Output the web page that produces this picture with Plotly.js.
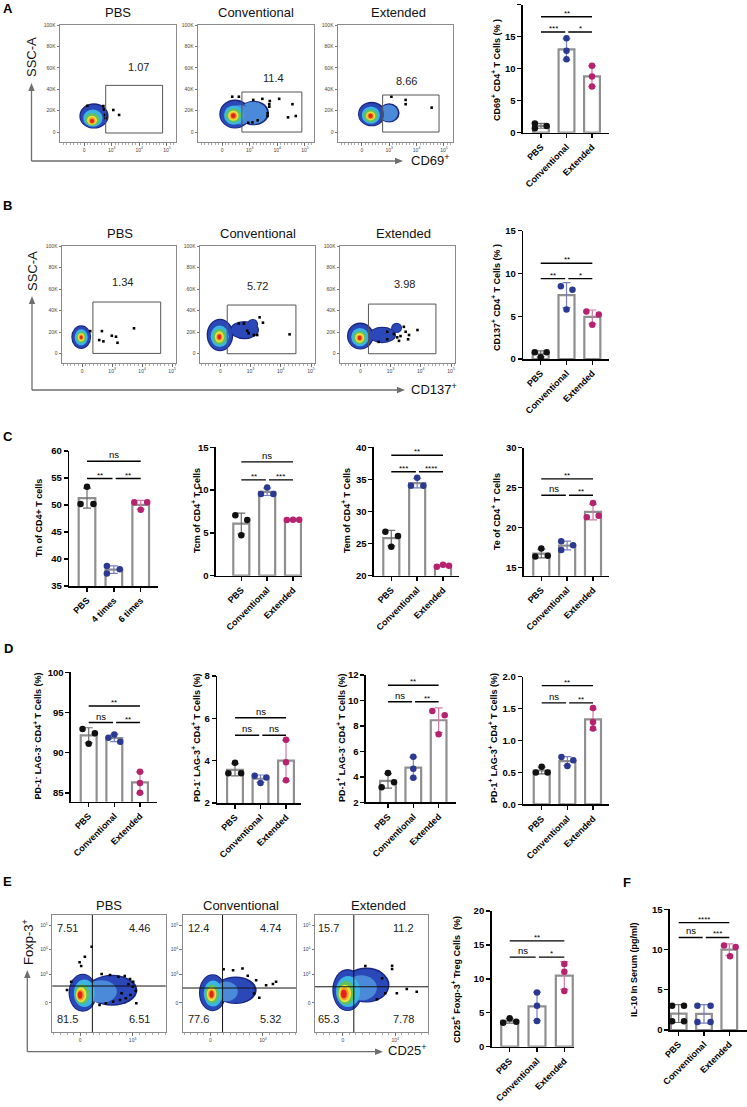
<!DOCTYPE html>
<html><head><meta charset="utf-8">
<script src="https://cdn.plot.ly/plotly-3.0.1.min.js"></script>
<style>html,body{margin:0;padding:0;background:#fff}#chart{width:747px;height:1107px}</style>
</head><body><div id="chart"></div>
<script>
// ---------------- DATA ----------------
const catsStd = ['PBS','Conventional','Extended'];
const catsTn  = ['PBS','4 times','6 times'];

// bar-chart replicate values [PBS, Conventional, Extended]
const cd69  = [[1.45,0.7,1.05],[14.75,12.8,11.45],[10.45,8.75,7.2]];
const cd137 = [[0.8,0.8,0.2],[8.5,8.1,5.8],[5.55,5.2,4.0]];
const tn    = [[50.2,53.4,50.2],[38.7,37.3,38.1],[50.5,50.5,49.1]];
const tcm   = [[7.06,6.5,4.72],[10.3,9.55,9.55],[6.5,6.55,6.55]];
const tem   = [[26.85,26.2,24.5],[35.27,34.0,34.0],[21.4,21.7,21.55]];
const te    = [[16.4,16.5,17.4],[18.3,17.8,17.2],[21.3,23.1,21.5]];
const pdNlagN = [[92.93,92.43,91.1],[92.26,91.85,91.36],[87.64,86.24,85.0]];
const pdNlagP = [[3.9,3.4,3.4],[3.29,3.2,2.95],[4.99,3.93,3.08]];
const pdPlagN = [[4.3,3.18,3.57],[5.58,4.64,3.93],[9.17,8.83,7.34]];
const pdPlagP = [[0.59,0.5,0.5],[0.74,0.69,0.6],[1.51,1.29,1.19]];
const treg  = [[3.54,4.18,3.69],[7.97,6.05,3.79],[12.2,11.06,8.21]];
const il10  = [[3.0,3.0,1.08,1.08],[3.0,3.0,1.0,1.0],[10.49,10.3,9.17]];

// horizontal scatter of replicate dots (category units)
const jitA  = [[-0.24,-0.24,0.22],[0,0,0],[0,0,0]];
const jitB  = [[-0.23,0.23,0],[-0.22,0.23,0],[-0.23,0.25,0]];
const jitC1 = [[-0.24,0,0.24],[-0.26,-0.26,0.22],[-0.24,0.24,0]];
const jitC2 = [[-0.23,0.23,0],[0,-0.24,0.24],[-0.24,0,0.24]];
const jitC3 = [[-0.23,0.26,0],[0,-0.24,0.24],[-0.24,0,0.23]];
const jitC4 = [[-0.23,0.25,0],[-0.23,0.23,-0.23],[-0.24,0,0.22]];
const jitD1 = [[-0.24,0.24,0],[0,-0.23,0.23],[0,0,0]];
const jitD2 = [[0,-0.26,0.24],[-0.23,0.23,0],[0,0,0]];
const jitD3 = [[0,-0.25,0.24],[0,0,0],[-0.25,0.24,0]];
const jitD4 = [[0,-0.23,0.23],[-0.23,0.23,0],[0,0,0]];
const jitE  = [[-0.24,0,0.24],[0,0,0],[0,0,0]];
const jitF  = [[-0.26,0.21,-0.26,0.21],[-0.26,0.26,-0.26,0.26],[-0.21,0.25,0.03]];

// significance brackets [from, to, level, label]
const sigA  = [[0,2,18.1,'**'],[0,1,15.7,'***'],[1,2,15.7,'*']];
const sigB  = [[0,2,11.2,'**'],[0,1,9.4,'**'],[1,2,9.4,'*']];
const sigC1 = [[0,2,58.1,'ns'],[0,1,54.9,'**'],[1,2,54.9,'**']];
const sigC2 = [[0,2,13.3,'ns'],[0,1,11.2,'**'],[1,2,11.2,'***']];
const sigC3 = [[0,2,38.75,'**'],[0,1,36.2,'***'],[1,2,36.2,'****']];
const sigC4 = [[0,2,26.1,'**'],[0,1,24.05,'ns'],[1,2,24.05,'**']];
const sigD1 = [[0,2,95.8,'**'],[0,1,93.75,'ns'],[1,2,93.75,'**']];
const sigD2 = [[0,2,6.03,'ns'],[0,1,5.2,'ns'],[1,2,5.2,'ns']];
const sigD3 = [[0,2,11.19,'**'],[0,1,9.9,'ns'],[1,2,9.9,'**']];
const sigD4 = [[0,2,1.86,'**'],[0,1,1.59,'ns'],[1,2,1.59,'**']];
const sigE  = [[0,2,15.6,'**'],[0,1,13.2,'ns'],[1,2,13.2,'*']];
const sigF  = [[0,2,13.35,'****'],[0,1,11.5,'ns'],[1,2,11.5,'***']];

// flow plots: tick labels
const flowXTicksAB = ['0','10<sup>3</sup>','10<sup>4</sup>','10<sup>5</sup>'];
const flowYTicksAB = ['0','20K','40K','60K','80K','100K'];
const flowXTicksE  = ['0','10<sup>3</sup>'];
const flowYTicksE  = ['0','10<sup>3</sup>','10<sup>4</sup>','10<sup>5</sup>'];
const flowTitles = ['PBS','Conventional','Extended'];

// density blobs: [cx, cy, rx, ry, level]
const blobA1 = [[1.36,15,0.53,11.8,0],[1.35,14.6,0.48,10.8,1],[1.32,13,0.35,8,3],[1.3,11.8,0.26,6,4],[1.29,11,0.18,4.3,5],[1.29,10.6,0.12,3,6],[1.29,10.3,0.075,2,7]];
const blobA2 = [[2.15,17.8,0.55,11.5,0],[1.47,16.8,0.57,13.5,0],[2.13,17.8,0.5,10.5,2],[1.46,16.5,0.52,12.5,1],[1.65,16.2,0.45,9,2],[1.43,15.8,0.36,9,3],[1.42,15.5,0.27,6.8,4],[1.41,15.3,0.19,4.8,5],[1.41,15.2,0.13,3.4,6],[1.41,15.2,0.085,2.3,7]];
const blobA3 = [[2.0,17.8,0.38,9,0],[1.36,16.8,0.5,11.5,0],[1.98,17.8,0.34,8,2],[1.35,16.5,0.46,10.5,1],[1.33,15.8,0.33,8,3],[1.32,15.3,0.25,6,4],[1.32,15.1,0.17,4.2,5],[1.32,15,0.12,3,6],[1.32,15,0.08,2,7]];
const blobB1 = [[0.97,15.5,0.33,11,0],[0.97,15.4,0.3,10,1],[0.97,15.2,0.22,7.5,3],[0.97,15.2,0.16,5.5,4],[0.97,15.2,0.11,3.8,5],[0.97,15.2,0.075,2.6,6],[0.97,15.2,0.05,1.8,7]];
const blobB2 = [[1.8,22,0.48,8.5,0],[2.07,27.5,0.18,4.8,0],[0.99,17.4,0.44,15,0],[1.8,22,0.44,7.5,1],[2.07,27.5,0.15,4,1],[0.99,17.2,0.4,14,1],[0.98,16.2,0.3,10,3],[0.97,15.8,0.22,7.5,4],[0.97,15.6,0.15,5.2,5],[0.97,15.5,0.1,3.5,6],[0.97,15.5,0.065,2.3,7]];
const blobB3 = [[1.73,17.4,0.45,7.6,0],[2.2,24,0.18,4.8,0],[1.0,16.4,0.44,12.5,0],[1.73,17.4,0.41,6.8,1],[2.2,24,0.15,4,1],[1.0,16.2,0.4,11.5,1],[0.99,15.5,0.29,8.5,3],[0.98,15,0.21,6.3,4],[0.98,14.8,0.15,4.5,5],[0.98,14.6,0.1,3,6],[0.98,14.6,0.065,2,7]];
const blobE1 = [[0.61,0.5,0.48,0.62,0],[0.05,0.4,0.27,0.76,0],[0.6,0.5,0.45,0.57,1],[0.05,0.4,0.25,0.72,1],[0.4,0.45,0.3,0.45,2],[0.08,0.38,0.2,0.55,3],[0.04,0.34,0.14,0.4,4],[0.02,0.32,0.1,0.3,5],[0.01,0.31,0.07,0.22,6],[0.0,0.31,0.045,0.15,7]];
const blobE2 = [[0.48,0.5,0.4,0.55,0],[0.04,0.4,0.26,0.74,0],[0.47,0.5,0.37,0.5,1],[0.04,0.4,0.24,0.7,1],[0.3,0.45,0.22,0.4,2],[0.05,0.37,0.18,0.52,3],[0.03,0.35,0.13,0.38,4],[0.02,0.34,0.09,0.28,5],[0.02,0.34,0.065,0.2,6],[0.02,0.34,0.04,0.14,7]];
const blobE3 = [[0.45,0.71,0.44,0.7,0],[0.09,0.51,0.29,0.84,0],[0.45,0.7,0.41,0.65,1],[0.09,0.5,0.27,0.8,1],[0.35,0.6,0.3,0.5,2],[0.1,0.45,0.23,0.62,3],[0.06,0.4,0.17,0.48,4],[0.04,0.37,0.12,0.35,5],[0.03,0.36,0.085,0.26,6],[0.02,0.35,0.055,0.17,7]];

// single events outside the dense cloud
const evA1x = [1.12,1.70,1.72,2.06,2.27,1.76,1.78];
const evA1y = [24.5,24.3,21,20.6,16,16,13];
const evA2x = [1.37,1.61,2.13,2.46,2.73,3.07,2.71,2.71,2.65,2.65,3.55,3.39,3.67,2.1,2.29,1.95];
const evA2y = [33,33,30,31,29,31,26,23.7,17.5,15,26,13.7,15,9,11,8.7];
const evA3x = [2.08,2.6,2.6,3.55];
const evA3y = [33,30,26,22.8];
const evB1x = [1.66,1.57,1.71,1.99,2.13,2.18,2.73,1.27];
const evB1y = [21,12.7,11.5,16.7,15.8,10.2,23.6,21];
const evB2x = [1.61,1.78,2.3,2.41,1.94,2.11,2.22,3.29,1.89];
const evB2y = [28,28,33.8,28.8,19,17.4,17.4,18,21.4];
const evB3x = [1.89,2.11,2.33,2.44,2.5,2.61,2.89,1.61,1.89,2.22,2.28,2.58];
const evB3y = [20.4,18.3,16.4,25,20.4,17.4,22,11,13.4,15.2,12,13.4];
const evE1x = [0.22,0.09,-0.01,0.02,0.41,0.57,0.73,0.85,0.95,1.01,0.92,1.0,1.06,0.96,0.87,1.07,0.76,0.63,0.49,0.37,0.79,-0.25,-0.17];
const evE1y = [2.24,1.84,1.62,1.47,1.15,1.11,1.04,1.07,0.95,0.84,0.75,0.64,0.48,0.31,0.18,-0.02,0.11,0.04,-0.02,-0.09,0.38,0.51,0.84];
const evE2x = [0.43,0.61,0.71,0.87,1.06,1.25,1.19,0.93,0.83,0.25];
const evE2y = [1.3,1.37,1.08,0.9,0.7,0.84,0.75,0.2,0.37,1.34];
const evE3x = [0.94,0.94,1.03,1.22,1.41,0.43,0.75,0.81,0.65];
const evE3y = [1.48,1.35,0.38,0.55,0.44,1.47,0.98,0.38,0.14];

// gates [x0,x1,y0,y1] and gate percentages
const gateA = [[1.785,3.845,-0.9,43.6],[1.72,3.89,0,37.4],[1.76,3.82,0,34.6]];
const gateB = [[1.36,3.62,0.3,48],[1.23,3.5,0,45.2],[1.27,3.5,0,46.1]];
const pctA = ['1.07','11.4','8.66'];
const pctB = ['1.34','5.72','3.98'];
const quadE = [[0.233,0.67],[0.23,0.59],[0.21,0.64]];
const pctE = [['7.51','4.46','81.5','6.51'],['12.4','4.74','77.6','5.32'],['15.7','11.2','65.3','7.78']];

// ---------------- STYLE / LAYOUT ----------------
const W = 747, H = 1107;
const FONT = 'Liberation Sans, Arial, Helvetica, sans-serif';
const ptColors  = ['#111111','#2b3990','#b5236f'];
const errColors = ['#6f6f6f','#7880c4','#d47aa5'];
const palette = ['#1b2580','#2b48b8','#4a8ad8','#3bb5e3','#5fc162','#ebe23a','#f39a2a','#e2231d'];
const BOLD = (size)=>({family:FONT, size:size, color:'#000', weight:700});

const layout = {width:W, height:H, margin:{l:0,r:0,t:0,b:0}, showlegend:false,
  paper_bgcolor:'#ffffff', plot_bgcolor:'rgba(0,0,0,0)', font:{family:FONT, color:'#000'},
  annotations:[], shapes:[]};
const traces = [];
let axN = 0;
function newAxes(box, xo, yo){
  axN++; const n = axN===1 ? '' : String(axN);
  layout['xaxis'+n] = Object.assign({domain:[box[0]/W, box[1]/W], anchor:'y'+n, showgrid:false, zeroline:false, fixedrange:true}, xo);
  layout['yaxis'+n] = Object.assign({domain:[1-box[3]/H, 1-box[2]/H], anchor:'x'+n, showgrid:false, zeroline:false, fixedrange:true}, yo);
  return {x:'x'+n, y:'y'+n};
}
function txt(t, px, py, font, opts){
  layout.annotations.push(Object.assign({text:t, x:px/W, y:1-py/H, xref:'paper', yref:'paper', showarrow:false,
    xanchor:'center', yanchor:'middle', font:font}, opts||{}));
}
const mean = a => a.reduce((s,v)=>s+v,0)/a.length;
const sd = a => { const m = mean(a); return Math.sqrt(a.reduce((s,v)=>s+(v-m)*(v-m),0)/(a.length-1)); };

function barChart(c){
  const axisBase = {showline:true, linecolor:'#000', linewidth:1.6, ticks:'outside', ticklen:4, tickwidth:1.4, tickcolor:'#000'};
  const ax = newAxes(c.box,
    Object.assign({}, axisBase, {range:c.xr, tickmode:'array', tickvals:[0,1,2], ticktext:c.cats, tickangle:-45,
      tickfont:BOLD(9)}),
    Object.assign({}, axisBase, {range:c.yr, tickmode:'array', tickvals:c.yt, ticktext:(c.ytt || c.yt.map(String)),
      tickfont:BOLD(9.5)}));
  const idx = [0,1,2];
  traces.push({type:'bar', x:idx, y:c.vals.map(mean), width:0.62, xaxis:ax.x, yaxis:ax.y, hoverinfo:'skip',
    marker:{color:'#ffffff', line:{color:'#8f8f8f', width:2.2}}});
  idx.forEach(i=>{
    traces.push({type:'scatter', mode:'markers', x:[i], y:[mean(c.vals[i])], xaxis:ax.x, yaxis:ax.y, hoverinfo:'skip',
      marker:{size:1, color:'rgba(0,0,0,0)'},
      error_y:{type:'data', array:[sd(c.vals[i])], visible:true, color:errColors[i], thickness:1.2, width:4}});
  });
  idx.forEach(i=>{
    traces.push({type:'scatter', mode:'markers', x:c.vals[i].map((v,k)=>i+c.jit[i][k]), y:c.vals[i], xaxis:ax.x, yaxis:ax.y,
      hoverinfo:'skip', cliponaxis:false, marker:{size:6.5, color:ptColors[i]}});
  });
  c.sig.forEach(s=>{
    const a = (s[0]===1) ? 1.07 : s[0];
    const b = (s[1]===1) ? 0.95 : s[1];
    traces.push({type:'scatter', mode:'lines', x:[a,b], y:[s[2],s[2]], xaxis:ax.x, yaxis:ax.y, hoverinfo:'skip',
      cliponaxis:false, line:{color:'#000', width:1.4}});
    const isNs = s[3]==='ns';
    layout.annotations.push({text:s[3], x:(a+b)/2, y:s[2], xref:ax.x, yref:ax.y, showarrow:false, yanchor:'bottom',
      yshift: isNs ? -1 : -3, font:{family:FONT, size:isNs?9.5:8, color:'#000'}});
  });
  txt(c.title, c.tx, c.ty, BOLD(9), {textangle:-90});
}

function flowPanel(c){
  const fa = {showline:true, mirror:true, linecolor:'#8a8a8a', linewidth:1, ticks:'outside', ticklen:2.5, tickwidth:0.8,
    tickcolor:'#555', tickfont:{family:FONT, size:5, color:'#444'}};
  const ax = newAxes(c.box,
    Object.assign({}, fa, {range:c.xr, tickmode:'array', tickvals:c.xtv, ticktext:c.xtt,
      minor:{ticks:'outside', ticklen:1.5, tickwidth:0.6, tickcolor:'#777', dtick:0.125}}),
    Object.assign({}, fa, {range:c.yr, tickmode:'array', tickvals:c.ytv, ticktext:c.ytt}));
  c.blob.forEach(b=>layout.shapes.push({type:'circle', xref:ax.x, yref:ax.y, layer:'below',
    x0:b[0]-b[2], x1:b[0]+b[2], y0:b[1]-b[3], y1:b[1]+b[3], fillcolor:palette[b[4]], line:{width:0}}));
  traces.push({type:'scatter', mode:'markers', x:c.evx, y:c.evy, xaxis:ax.x, yaxis:ax.y, hoverinfo:'skip',
    marker:{size:2.6, color:'#000', symbol:'square'}});
  const nf = {family:FONT, size:11, color:'#222'};
  if (c.gate){
    const g = c.gate;
    layout.shapes.push({type:'rect', xref:ax.x, yref:ax.y, x0:g[0], x1:g[1], y0:g[2], y1:g[3], line:{color:'#555', width:1}, layer:'above'});
    layout.annotations.push({text:c.pct, x:c.pctPos[0], y:c.pctPos[1], xref:ax.x, yref:ax.y, showarrow:false, font:nf});
  }
  if (c.quad){
    const q = c.quad;
    layout.shapes.push({type:'line', xref:ax.x, yref:'paper', x0:q[0], x1:q[0], y0:1-c.box[3]/H, y1:1-c.box[2]/H, line:{color:'#111', width:1}, layer:'above'});
    layout.shapes.push({type:'line', xref:'paper', yref:ax.y, x0:c.box[0]/W, x1:c.box[1]/W, y0:q[1], y1:q[1], line:{color:'#111', width:1}, layer:'above'});
    const pp = c.pctPos;
    [[pp[0],pp[2]],[pp[1],pp[2]],[pp[0],pp[3]],[pp[1],pp[3]]].forEach((p,k)=>{
      layout.annotations.push({text:c.pcts[k], x:p[0], y:p[1], xref:ax.x, yref:ax.y, showarrow:false, font:nf});
    });
  }
  txt(c.title, c.tx, c.ty, {family:FONT, size:13, color:'#111'});
}

// ---------------- FLOW PANELS ----------------
const boxesA = [[60,176,25,142],[198,314,25,142],[338,453,25,142]];
const boxesB = [[62,176,246,363],[200,315,246,363],[340,455,246,363]];
const boxesE = [[52.3,165.7,915,1032.3],[182.7,296,915,1032.3],[315,428.3,915,1032.3]];
const blobsA = [blobA1,blobA2,blobA3], blobsB = [blobB1,blobB2,blobB3], blobsE = [blobE1,blobE2,blobE3];
const evA = [[evA1x,evA1y],[evA2x,evA2y],[evA3x,evA3y]];
const evB = [[evB1x,evB1y],[evB2x,evB2y],[evB3x,evB3y]];
const evE = [[evE1x,evE1y],[evE2x,evE2y],[evE3x,evE3y]];
const pctPosA = [[2.99,60.7],[2.88,50.5],[2.63,47.7]];
const pctPosB = [[2.36,66.6],[2.23,62.9],[2.45,64.7]];
const pctPosE = [[-0.25,1.14,3.0,-0.65],[-0.235,1.14,3.0,-0.65],[-0.27,1.15,3.0,-0.65]];
const titleXA = [118,256,398], titleXB = [120,258,404], titleXE = [109.3,240.7,378.3];

[0,1,2].forEach(i=>{
  flowPanel({box:boxesA[i], xr:[0.13,4.33], yr:[-9.3,100], xtv:[1,2,3,4], xtt:flowXTicksAB, ytv:[0,20,40,60,80,100], ytt:flowYTicksAB,
    blob:blobsA[i], evx:evA[i][0], evy:evA[i][1], gate:gateA[i], pct:pctA[i], pctPos:pctPosA[i], title:flowTitles[i], tx:titleXA[i], ty:13});
  flowPanel({box:boxesB[i], xr:[0.33,4.13], yr:[-8.6,100], xtv:[1,2,3,4], xtt:flowXTicksAB, ytv:[0,20,40,60,80,100], ytt:flowYTicksAB,
    blob:blobsB[i], evx:evB[i][0], evy:evB[i][1], gate:gateB[i], pct:pctB[i], pctPos:pctPosB[i], title:flowTitles[i], tx:titleXB[i], ty:233});
  flowPanel({box:boxesE[i], xr:[-0.53,1.63], yr:[-1.18,3.51], xtv:[0,1], xtt:flowXTicksE, ytv:[0,1.15,2.15,3.11], ytt:flowYTicksE,
    blob:blobsE[i], evx:evE[i][0], evy:evE[i][1], quad:quadE[i], pcts:pctE[i], pctPos:pctPosE[i], title:flowTitles[i], tx:titleXE[i], ty:905});
});

// ---------------- BAR PANELS ----------------
barChart({vals:cd69, jit:jitA, sig:sigA, cats:catsStd, box:[523,609,4.5,132.7], xr:[-0.706,2.667], yr:[0,20], yt:[0,5,10,15,20],
  title:'CD69<sup>+</sup> CD4<sup>+</sup> T Cells (% )', tx:496, ty:70});
barChart({vals:cd137, jit:jitB, sig:sigB, cats:catsStd, box:[523.3,609,230.7,359], xr:[-0.674,2.646], yr:[0,15], yt:[0,5,10,15],
  title:'CD137<sup>+</sup> CD4<sup>+</sup> T Cells (% )', tx:496, ty:298});
barChart({vals:tn, jit:jitC1, sig:sigC1, cats:catsTn, box:[69.3,158,451,586], xr:[-0.659,2.644], yr:[35,60], yt:[35,40,45,50,55,60],
  title:'Tn of CD4+ T cells', tx:39, ty:518});
barChart({vals:tcm, jit:jitC2, sig:sigC2, cats:catsStd, box:[216,302,447.3,575.7], xr:[-0.979,2.348], yr:[0,15], yt:[0,5,10,15],
  title:'Tcm of CD4<sup>+</sup> T Cells', tx:196, ty:511});
barChart({vals:tem, jit:jitC3, sig:sigC3, cats:catsStd, box:[374,459.3,447.3,575.7], xr:[-0.669,2.63], yr:[20,40], yt:[20,25,30,35,40],
  title:'Tem of CD4<sup>+</sup> T Cells', tx:346, ty:511});
barChart({vals:te, jit:jitC4, sig:sigC4, cats:catsStd, box:[524,609,447.7,575.7], xr:[-0.669,2.619], yr:[14,30], yt:[15,20,25,30],
  title:'Te of CD4<sup>+</sup> T Cells', tx:496, ty:512});
barChart({vals:pdNlagN, jit:jitD1, sig:sigD1, cats:catsStd, box:[71,156.7,672.3,801.7], xr:[-0.69,2.653], yr:[83.9,100], yt:[85,90,95,100],
  title:'PD-1<sup>-</sup> LAG-3<sup>-</sup> CD4<sup>+</sup> T Cells (%)', tx:37.5, ty:736});
barChart({vals:pdNlagP, jit:jitD2, sig:sigD2, cats:catsStd, box:[217.3,301,676,803], xr:[-0.694,2.588], yr:[2,8], yt:[2,4,6,8],
  title:'PD-1<sup>-</sup> LAG-3<sup>+</sup> CD4<sup>+</sup> T Cells (%)', tx:196, ty:738});
barChart({vals:pdPlagN, jit:jitD3, sig:sigD3, cats:catsStd, box:[366,456,675,802.3], xr:[-0.868,2.686], yr:[2,12], yt:[2,4,6,8,10,12],
  title:'PD-1<sup>+</sup> LAG-3<sup>-</sup> CD4<sup>+</sup> T Cells (%)', tx:341, ty:738});
barChart({vals:pdPlagP, jit:jitD4, sig:sigD4, cats:catsStd, box:[523.3,609.3,676.7,804.3], xr:[-0.717,2.634], yr:[0,2], yt:[0,0.5,1,1.5,2],
  ytt:['0.0','0.5','1.0','1.5','2.0'], title:'PD-1<sup>+</sup> LAG-3<sup>+</sup> CD4<sup>+</sup> T Cells (%)', tx:493, ty:738});
barChart({vals:treg, jit:jitE, sig:sigE, cats:catsStd, box:[491.7,574,911,1046.7], xr:[-0.659,2.355], yr:[0,20], yt:[0,5,10,15,20],
  title:'CD25<sup>+</sup> Foxp-3<sup>+</sup> Treg Cells  (%)', tx:456, ty:980});
barChart({vals:il10, jit:jitF, sig:sigF, cats:catsStd, box:[670,746.7,909.3,1030], xr:[-0.344,2.688], yr:[0,15], yt:[0,5,10,15],
  title:'IL-10 In Serum (pg/ml)', tx:634, ty:970});

// ---------------- PANEL LETTERS, AXIS ARROWS ----------------
const letters = [['A',7.5,8.5],['B',7.5,206],['C',7.5,436],['D',8,648],['E',7.5,881],['F',627,882]];
letters.forEach(l=>txt(l[0], l[1], l[2], BOLD(13)));

const ARW = '#6e6e6e';
const PX = p=>p/W, PY = p=>1-p/H;
function axisArrows(cx, cy, topY, rightX){
  // vertical shaft and horizontal shaft (paper coordinates)
  layout.shapes.push({type:'line', xref:'paper', yref:'paper', x0:PX(cx), y0:PY(cy), x1:PX(cx), y1:PY(topY+6), line:{color:ARW, width:1.3}});
  layout.shapes.push({type:'line', xref:'paper', yref:'paper', x0:PX(cx), y0:PY(cy), x1:PX(rightX-6), y1:PY(cy), line:{color:ARW, width:1.3}});
  layout.shapes.push({type:'path', xref:'paper', yref:'paper', fillcolor:ARW, line:{width:0},
    path:`M ${PX(cx)},${PY(topY)} L ${PX(cx-3.2)},${PY(topY+8)} L ${PX(cx+3.2)},${PY(topY+8)} Z`});
  layout.shapes.push({type:'path', xref:'paper', yref:'paper', fillcolor:ARW, line:{width:0},
    path:`M ${PX(rightX)},${PY(cy)} L ${PX(rightX-8)},${PY(cy-3.2)} L ${PX(rightX-8)},${PY(cy+3.2)} Z`});
}
axisArrows(31.5, 161, 83, 403);
axisArrows(32, 390, 296, 405);
axisArrows(27.3, 1051.7, 970, 383);

const axFont = {family:FONT, size:13, color:'#111'};
txt('SSC-A', 32, 57, axFont, {textangle:-90});
txt('SSC-A', 32, 271, axFont, {textangle:-90});
txt('Foxp-3<sup>+</sup>', 28, 942, axFont, {textangle:-90});
txt('CD69<sup>+</sup>', 430, 160, axFont);
txt('CD137<sup>+</sup>', 434, 389, axFont);
txt('CD25<sup>+</sup>', 407, 1050, axFont);

Plotly.newPlot('chart', traces, layout, {staticPlot:true, displayModeBar:false});
</script></body></html>
